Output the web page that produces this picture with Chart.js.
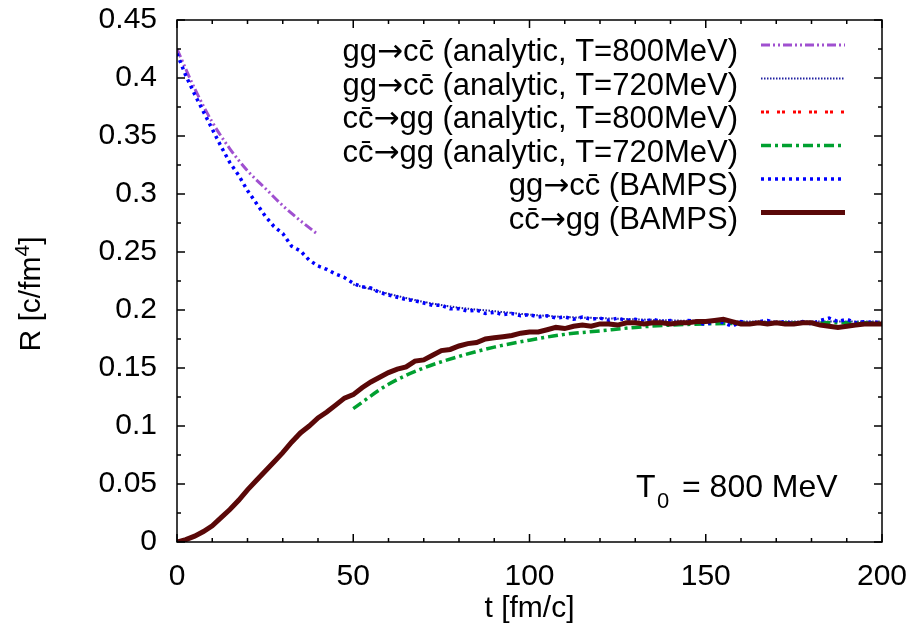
<!DOCTYPE html>
<html>
<head>
<meta charset="utf-8">
<title>R vs t</title>
<script src="https://cdn.jsdelivr.net/npm/chart.js@4.4.0/dist/chart.umd.min.js"></script>
<style>
  html, body { margin: 0; padding: 0; background: #fff; }
  canvas { display: block; }
</style>
</head>
<body>
<canvas id="myChart" width="916" height="640"></canvas>
<script>
// BAMPS runs, sampled every 2.5 fm/c
var tBamps = [0, 2.5, 5, 7.5, 10, 12.5, 15, 17.5, 20, 22.5, 25, 27.5, 30, 32.5, 35, 37.5, 40, 42.5, 45, 47.5,
  50, 52.5, 55, 57.5, 60, 62.5, 65, 67.5, 70, 72.5, 75, 77.5, 80, 82.5, 85, 87.5, 90, 92.5, 95, 97.5,
  100, 102.5, 105, 107.5, 110, 112.5, 115, 117.5, 120, 122.5, 125, 127.5, 130, 132.5, 135, 137.5, 140, 142.5, 145, 147.5,
  150, 152.5, 155, 157.5, 160, 162.5, 165, 167.5, 170, 172.5, 175, 177.5, 180, 182.5, 185, 187.5, 190, 192.5, 195, 197.5, 200];
var rGgCcBamps = [0.421, 0.402, 0.386, 0.371, 0.356, 0.341, 0.327, 0.316, 0.303, 0.292, 0.281, 0.272, 0.266, 0.255, 0.251, 0.243, 0.238, 0.235, 0.231, 0.228,
  0.223, 0.220, 0.219, 0.215, 0.213, 0.211, 0.209, 0.208, 0.206, 0.204, 0.204, 0.201, 0.201, 0.199, 0.200, 0.197, 0.198, 0.196, 0.197, 0.195,
  0.196, 0.194, 0.195, 0.193, 0.194, 0.192, 0.194, 0.192, 0.193, 0.191, 0.193, 0.191, 0.192, 0.190, 0.192, 0.190, 0.191, 0.188, 0.191, 0.190,
  0.187, 0.191, 0.189, 0.186, 0.190, 0.188, 0.190, 0.191, 0.189, 0.190, 0.188, 0.190, 0.188, 0.191, 0.193, 0.190, 0.192, 0.189, 0.190, 0.189, 0.190];
var rCcGgBamps = [0.000, 0.002, 0.005, 0.009, 0.014, 0.021, 0.028, 0.036, 0.045, 0.053, 0.061, 0.069, 0.077, 0.086, 0.094, 0.100, 0.107, 0.112, 0.118, 0.124,
  0.127, 0.133, 0.138, 0.142, 0.146, 0.149, 0.151, 0.156, 0.157, 0.161, 0.165, 0.166, 0.169, 0.171, 0.172, 0.175, 0.176, 0.177, 0.178, 0.180,
  0.181, 0.181, 0.183, 0.185, 0.184, 0.186, 0.187, 0.186, 0.188, 0.188, 0.187, 0.189, 0.189, 0.188, 0.189, 0.189, 0.188, 0.189, 0.189, 0.190,
  0.190, 0.191, 0.192, 0.190, 0.188, 0.188, 0.189, 0.188, 0.189, 0.188, 0.188, 0.189, 0.189, 0.187, 0.186, 0.185, 0.186, 0.187, 0.188, 0.188, 0.188];

// analytic curves, T = 800 MeV (early times)
var tEarly = [0, 5, 10, 15, 20, 25, 30, 35, 40];
var rGgCc800 = [0.425, 0.391, 0.362, 0.339, 0.320, 0.305, 0.290, 0.277, 0.265];
var rCcGg800 = [0.000, 0.005, 0.014, 0.028, 0.045, 0.061, 0.077, 0.093, 0.106];

// analytic curves, T = 720 MeV (late times)
var tLate = [50, 60, 70, 80, 90, 100, 110, 120, 130, 140, 150, 160, 170, 180, 190, 200];
var rGgCc720 = [0.222, 0.214, 0.207, 0.202, 0.199, 0.196, 0.194, 0.193, 0.192, 0.191, 0.1905, 0.190, 0.190, 0.190, 0.190, 0.190];
var rCcGg720 = [0.115, 0.136, 0.150, 0.160, 0.168, 0.174, 0.179, 0.182, 0.185, 0.187, 0.188, 0.1885, 0.189, 0.189, 0.189, 0.189];

var legendLabels = [
  "gg→cc\u0304 (analytic, T=800MeV)",
  "gg→cc\u0304 (analytic, T=720MeV)",
  "cc\u0304→gg (analytic, T=800MeV)",
  "cc\u0304→gg (analytic, T=720MeV)",
  "gg→cc\u0304 (BAMPS)",
  "cc\u0304→gg (BAMPS)"
];
var xTicks = [0, 50, 100, 150, 200];

var FONT = "'Liberation Sans', Arial, sans-serif";
var ARROW_FONT = "'DejaVu Sans', sans-serif";

function pts(xs, ys) {
  return xs.map(function (x, i) { return {x: x, y: ys[i]}; });
}

var series = [
  {data: pts(tEarly, rGgCc800), color: '#a050d0', width: 3, dash: [9, 3, 2, 3, 2, 3], smooth: true},
  {data: pts(tLate, rGgCc720), color: '#2020a0', width: 2, dash: [1.5, 1.5], smooth: true},
  {data: pts(tEarly, rCcGg800), color: '#ff0000', width: 3, dash: [3, 2, 3, 8], smooth: true},
  {data: pts(tLate, rCcGg720), color: '#00a030', width: 3.5, dash: [10, 4, 3, 4], smooth: true},
  {data: pts(tBamps, rGgCcBamps), color: '#0000ff', width: 3.5, dash: [3, 4], smooth: false},
  {data: pts(tBamps, rCcGgBamps), color: '#5a0808', width: 5, dash: [], smooth: false}
];

var datasets = series.map(function (s, i) {
  return {
    label: legendLabels[i],
    data: s.data,
    borderColor: s.color,
    borderWidth: s.width,
    borderDash: s.dash,
    pointRadius: 0,
    fill: false,
    cubicInterpolationMode: s.smooth ? 'monotone' : 'default',
    tension: 0,
    order: series.length - i
  };
});

// draws a key label right-aligned, with the arrow taken from DejaVu Sans
function drawKeyText(ctx, text, xRight, y, size) {
  var parts = text.split('→');
  var runs = [];
  parts.forEach(function (p, i) {
    if (i > 0) runs.push({s: '→', f: size + 'px ' + ARROW_FONT});
    runs.push({s: p, f: size + 'px ' + FONT});
  });
  var total = 0;
  runs.forEach(function (r) { ctx.font = r.f; r.w = ctx.measureText(r.s).width; total += r.w; });
  var x = xRight - total;
  ctx.textAlign = 'left';
  runs.forEach(function (r) { ctx.font = r.f; ctx.fillText(r.s, x, y); x += r.w; });
}

// frame, inward ticks, legend, y title and T0 label
var extras = {
  id: 'extras',
  afterDraw: function (chart) {
    var ctx = chart.ctx, a = chart.chartArea;
    var xs = chart.scales.x, ys = chart.scales.y;
    ctx.save();
    ctx.strokeStyle = '#000';
    ctx.lineWidth = 1.5;
    ctx.setLineDash([]);
    ctx.strokeRect(a.left, a.top, a.right - a.left, a.bottom - a.top);
    ctx.beginPath();
    for (var t = 0; t <= 200; t += 10) {
      var px = xs.getPixelForValue(t);
      var len = t % 50 === 0 ? 8 : 4;
      ctx.moveTo(px, a.bottom); ctx.lineTo(px, a.bottom - len);
      ctx.moveTo(px, a.top); ctx.lineTo(px, a.top + len);
    }
    for (var k = 0; k <= 18; k++) {
      var py = ys.getPixelForValue(k * 0.025);
      var l = k % 2 === 0 ? 8 : 4;
      ctx.moveTo(a.left, py); ctx.lineTo(a.left + l, py);
      ctx.moveTo(a.right, py); ctx.lineTo(a.right - l, py);
    }
    ctx.stroke();

    // key
    ctx.textBaseline = 'alphabetic';
    ctx.fillStyle = '#000';
    datasets.forEach(function (d, i) {
      var y = 45 + i * 33.5;
      drawKeyText(ctx, d.label, 738, y + 16, 31);
      ctx.strokeStyle = d.borderColor;
      ctx.lineWidth = d.borderWidth;
      ctx.setLineDash(d.borderDash);
      ctx.beginPath();
      ctx.moveTo(761, y);
      ctx.lineTo(845, y);
      ctx.stroke();
    });
    ctx.setLineDash([]);

    // T0 label
    ctx.textAlign = 'left';
    ctx.font = '32px ' + FONT;
    ctx.fillText('T', 636, 497);
    ctx.font = '22px ' + FONT;
    ctx.fillText('0', 657, 508);
    ctx.font = '32px ' + FONT;
    ctx.fillText('= 800 MeV', 682, 497);

    // y axis title, rotated
    ctx.translate(40, 294);
    ctx.rotate(-Math.PI / 2);
    ctx.font = '30px ' + FONT;
    var w1 = ctx.measureText('R [c/fm').width;
    var w3 = ctx.measureText(']').width;
    ctx.font = '21px ' + FONT;
    var w2 = ctx.measureText('4').width;
    var x0 = -(w1 + w2 + w3) / 2;
    ctx.font = '30px ' + FONT;
    ctx.fillText('R [c/fm', x0, 0);
    ctx.font = '21px ' + FONT;
    ctx.fillText('4', x0 + w1, -11);
    ctx.font = '30px ' + FONT;
    ctx.fillText(']', x0 + w1 + w2, 0);
    ctx.restore();
  }
};

new Chart("myChart", {
  type: "line",
  data: {datasets: datasets},
  plugins: [extras],
  options: {
    responsive: false,
    animation: false,
    devicePixelRatio: 1,
    layout: {padding: {left: 0, right: 34, top: 20, bottom: 0}},
    plugins: {
      legend: {display: false},
      tooltip: {enabled: false}
    },
    scales: {
      x: {
        type: 'linear',
        min: 0,
        max: 200,
        // fixed box so the plot frame lands where the original one is
        afterFit: function (scale) { scale.height = 98; scale.paddingLeft = 0; scale.paddingRight = 0; },
        afterBuildTicks: function (scale) {
          scale.ticks = xTicks.map(function (v) { return {value: v}; });
        },
        grid: {display: false, drawTicks: false},
        border: {display: false},
        ticks: {color: '#000', font: {family: FONT, size: 30}, padding: 17, maxRotation: 0},
        title: {display: true, text: 't [fm/c]', color: '#000', font: {family: FONT, size: 30}, padding: {top: 0, bottom: 13}}
      },
      y: {
        type: 'linear',
        min: 0,
        max: 0.45,
        afterFit: function (scale) { scale.width = 177; scale.paddingTop = 0; scale.paddingBottom = 0; },
        grid: {display: false, drawTicks: false},
        border: {display: false},
        ticks: {
          stepSize: 0.05,
          color: '#000',
          font: {family: FONT, size: 30},
          padding: 20,
          callback: function (v) { return String(Math.round(v * 100) / 100); }
        }
      }
    }
  }
});
</script>
</body>
</html>
